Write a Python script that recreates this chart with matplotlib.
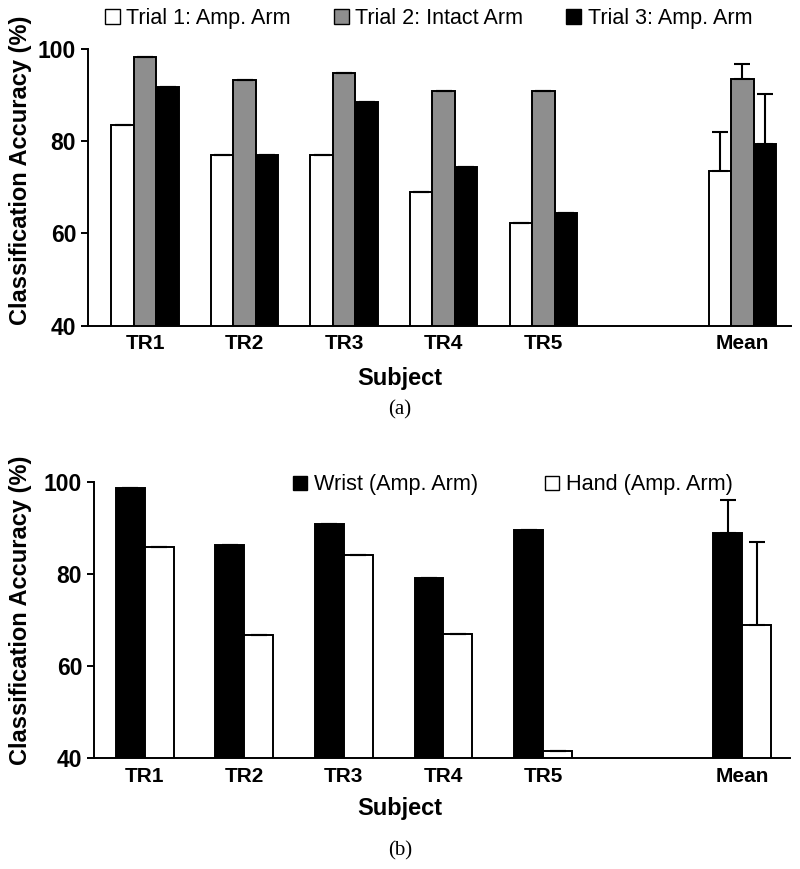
import numpy as np
import matplotlib
matplotlib.use("Agg")
import matplotlib.pyplot as plt
from matplotlib.patches import Patch

plt.rcParams['font.family'] = ['Liberation Sans', 'DejaVu Sans']

# ---- data ----
subjects = ["TR1", "TR2", "TR3", "TR4", "TR5", "Mean"]
xpos = [0, 1, 2, 3, 4, 6]

# (a) trials
trial1 = [83.5, 77.0, 77.0, 69.1, 62.3, 73.6]
trial2 = [98.2, 93.3, 94.8, 91.0, 91.0, 93.6]
trial3 = [91.8, 77.0, 88.6, 74.5, 64.4, 79.4]
trial1_err = [0, 0, 0, 0, 0, 8.5]
trial2_err = [0, 0, 0, 0, 0, 3.1]
trial3_err = [0, 0, 0, 0, 0, 10.9]
trial_labels = ["Trial 1: Amp. Arm", "Trial 2: Intact Arm", "Trial 3: Amp. Arm"]

# (b) wrist vs hand
wrist = [98.8, 86.4, 90.9, 79.2, 89.6, 89.0]
hand = [86.0, 66.7, 84.1, 67.1, 41.6, 69.0]
wrist_err = [0, 0, 0, 0, 0, 7.1]
hand_err = [0, 0, 0, 0, 0, 18.1]
wh_labels = ["Wrist (Amp. Arm)", "Hand (Amp. Arm)"]

GRAY = "#8e8e8e"

fig = plt.figure(figsize=(8, 8.69), dpi=100)
ax1 = fig.add_axes([0.11, 0.6252, 0.879, 0.3184])
ax2 = fig.add_axes([0.1175, 0.1274, 0.87, 0.3176])


def style(ax, xlim):
    ax.set_ylim(40, 100)
    ax.set_xlim(*xlim)
    ax.set_yticks([40, 60, 80, 100])
    ax.set_yticklabels(["40", "60", "80", "100"], fontsize=16.5, fontweight="bold")
    ax.set_xticks(xpos)
    ax.set_xticklabels(subjects, fontsize=15, fontweight="bold")
    ax.tick_params(axis="x", length=0, pad=6)
    ax.tick_params(axis="y", length=5, width=1.4, pad=3.5)
    for s in ["top", "right"]:
        ax.spines[s].set_visible(False)
    ax.spines["left"].set_linewidth(1.4)
    ax.spines["bottom"].set_linewidth(1.4)


x = np.array(xpos, dtype=float)
ekw = dict(elinewidth=1.5, capsize=6, capthick=1.5, ecolor="black")
lo = [0] * 6

# ---- (a) ----
w = 0.226
ax1.bar(x - w, trial1, w, color="white", edgecolor="black", lw=1.4,
        yerr=[lo, trial1_err], error_kw=ekw)
ax1.bar(x, trial2, w, color=GRAY, edgecolor="black", lw=1.4,
        yerr=[lo, trial2_err], error_kw=ekw)
ax1.bar(x + w, trial3, w, color="black", edgecolor="black", lw=1.4,
        yerr=[lo, trial3_err], error_kw=ekw)
style(ax1, (-0.573, 6.49))

h1 = [Patch(facecolor="white", edgecolor="black", lw=1.0),
      Patch(facecolor=GRAY, edgecolor="black", lw=1.0),
      Patch(facecolor="black", edgecolor="black", lw=1.0)]
fig.legend(h1, trial_labels, loc="center", bbox_to_anchor=(0.5356, 0.979), ncol=3,
           frameon=False, handlelength=0.7, handleheight=0.7, handletextpad=0.3,
           columnspacing=2.0, borderpad=0, borderaxespad=0, prop=dict(size=15.5))

# ---- (b) ----
w2 = 0.29
ax2.bar(x - w2 / 2, wrist, w2, color="black", edgecolor="black", lw=1.4,
        yerr=[lo, wrist_err], error_kw=ekw)
ax2.bar(x + w2 / 2, hand, w2, color="white", edgecolor="black", lw=1.4,
        yerr=[lo, hand_err], error_kw=ekw)
style(ax2, (-0.51, 6.48))

h2 = [Patch(facecolor="black", edgecolor="black", lw=1.0),
      Patch(facecolor="white", edgecolor="black", lw=1.0)]
fig.legend(h2, wh_labels, loc="center", bbox_to_anchor=(0.641, 0.4419), ncol=2,
           frameon=False, handlelength=0.65, handleheight=0.65, handletextpad=0.3,
           columnspacing=3.1, borderpad=0, borderaxespad=0, prop=dict(size=15.6))

# ---- labels ----
for yc in [1 - 170 / 869, 1 - 610 / 869]:
    fig.text(0.026, yc, "Classification Accuracy (%)", rotation=90, ha="center",
             va="center", fontsize=17, fontweight="bold")
fig.text(0.5, 1 - 378 / 869, "Subject", ha="center", va="center", fontsize=17,
         fontweight="bold")
fig.text(0.5, 1 - 808 / 869, "Subject", ha="center", va="center", fontsize=17,
         fontweight="bold")
fig.text(0.5, 1 - 410 / 869, "(a)", ha="center", va="center", fontsize=15,
         family=["Liberation Serif", "DejaVu Serif"])
fig.text(0.5, 1 - 851 / 869, "(b)", ha="center", va="center", fontsize=15,
         family=["Liberation Serif", "DejaVu Serif"])

fig.savefig("out.png", dpi=100)
